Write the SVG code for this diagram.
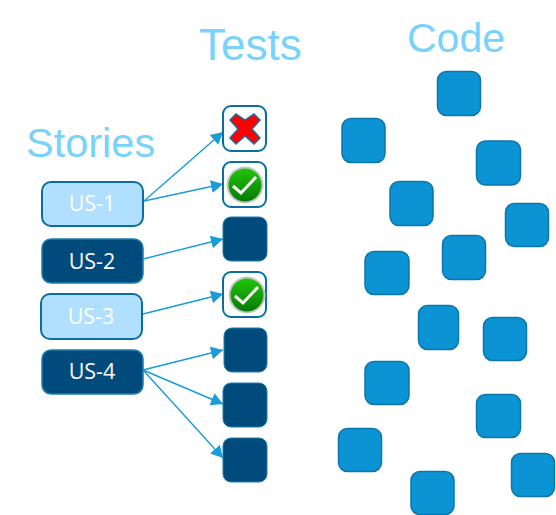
<svg xmlns="http://www.w3.org/2000/svg" width="556" height="515" viewBox="0 0 556 515">
<style>
.h{font-family:"Liberation Sans",Arial,sans-serif;font-size:41px;fill:#78d3fc}
.l{font-family:"Open Sans","Noto Sans",sans-serif;font-size:21.500px;text-anchor:middle;fill:#fff}
.sl{fill:#b0e0fe;stroke:#0a6fa0;stroke-width:2}
.sd{fill:#004a7c;stroke:#1a80b0;stroke-width:1.5}
.tw{fill:#fff;stroke:#0a6fa0;stroke-width:2}
.td{fill:#004a7c;stroke:#1a80b0;stroke-width:1}
.c{fill:#0b93d3;stroke:#0a78ad;stroke-width:1.5}
.a{stroke:#1a9cd8;stroke-width:1.4;fill:none;marker-end:url(#ah)}
</style>
<defs>
<marker id="ah" markerUnits="userSpaceOnUse" markerWidth="13" markerHeight="14" refX="12" refY="7" orient="auto"><path d="M0 0.500L12 7L0 13.500Z" fill="#1a9cd8"/></marker>
<linearGradient id="g" x1="0" y1="0" x2="0" y2="1"><stop offset="0" stop-color="#22c60c"/><stop offset="1" stop-color="#067a04"/></linearGradient>
<g id="chk"><circle r="18.500" fill="#c4c8c4"/><circle r="16.500" fill="url(#g)"/><path d="M-12 1L-4 8L11-8" fill="none" stroke="#fff" stroke-width="3"/></g>
</defs>
<text class="h" x="199" y="60" style="font-size:44px">Tests</text>
<text class="h" x="407" y="52">Code</text>
<text class="h" x="26" y="157" style="font-size:41.500px">Stories</text>
<g id="connectors">
<path class="a" d="M144 201L223 132"/>
<path class="a" d="M144 201L223 184"/>
<path class="a" d="M143 259L223 239"/>
<path class="a" d="M143 314L223 294"/>
<path class="a" d="M143 370L223 350"/>
<path class="a" d="M143 370L223 404"/>
<path class="a" d="M143 370L223 458"/>
</g>
<g id="us-1"><rect class="sl" x="42" y="182" width="101" height="44" rx="9"/><text class="l" x="92" y="211">US-1</text></g>
<g id="us-2"><rect class="sd" x="42" y="239" width="101" height="44" rx="9"/><text class="l" x="92" y="269">US-2</text></g>
<g id="us-3"><rect class="sl" x="41" y="294" width="101" height="45" rx="9"/><text class="l" x="91" y="324">US-3</text></g>
<g id="us-4"><rect class="sd" x="42" y="350" width="101" height="44" rx="9"/><text class="l" x="92" y="379">US-4</text></g>
<g id="test-1"><rect class="tw" x="223" y="106" width="43" height="45" rx="8"/><path d="M245 120L254 114L260 120L252 129L260 138L254 144L245 136L236 144L230 138L238 129L230 120L236 114Z" fill="#f00" stroke="#1a6f9c" stroke-width="1.500"/></g>
<g id="test-2"><rect class="tw" x="223" y="162" width="43" height="45" rx="8"/><use href="#chk" x="245" y="185"/></g>
<g id="test-3"><rect class="td" x="223" y="217" width="44" height="44" rx="8"/></g>
<g id="test-4"><rect class="tw" x="223" y="272" width="43" height="45" rx="8"/><use href="#chk" x="247" y="295"/></g>
<g id="test-5"><rect class="td" x="224" y="328" width="43" height="44" rx="8"/></g>
<g id="test-6"><rect class="td" x="223" y="383" width="44" height="44" rx="8"/></g>
<g id="test-7"><rect class="td" x="223" y="438" width="44" height="44" rx="8"/></g>
<g id="code-1"><rect class="c" x="437.500" y="71.500" width="43" height="44" rx="9"/></g>
<g id="code-2"><rect class="c" x="342" y="118.500" width="43" height="44" rx="9"/></g>
<g id="code-3"><rect class="c" x="476.500" y="141" width="44" height="44" rx="9"/></g>
<g id="code-4"><rect class="c" x="390" y="181.500" width="43" height="44" rx="9"/></g>
<g id="code-5"><rect class="c" x="505.500" y="203.500" width="43" height="43" rx="9"/></g>
<g id="code-6"><rect class="c" x="442.500" y="235.500" width="43" height="44" rx="9"/></g>
<g id="code-7"><rect class="c" x="365" y="251.500" width="44" height="43" rx="9"/></g>
<g id="code-8"><rect class="c" x="418.500" y="305.500" width="40" height="44" rx="9"/></g>
<g id="code-9"><rect class="c" x="483.500" y="317.500" width="43" height="43" rx="9"/></g>
<g id="code-10"><rect class="c" x="365" y="361.500" width="44" height="43" rx="9"/></g>
<g id="code-11"><rect class="c" x="476.500" y="394.500" width="44" height="43" rx="9"/></g>
<g id="code-12"><rect class="c" x="338.500" y="428.500" width="43" height="43" rx="9"/></g>
<g id="code-13"><rect class="c" x="511.500" y="453.500" width="43" height="43" rx="9"/></g>
<g id="code-14"><rect class="c" x="411" y="471.500" width="43" height="43" rx="9"/></g>
</svg>
